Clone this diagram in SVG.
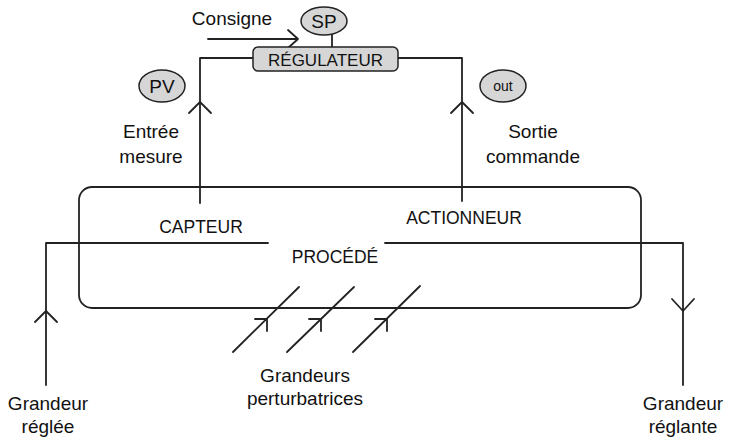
<svg xmlns="http://www.w3.org/2000/svg" width="732" height="440" viewBox="0 0 732 440">
<style>
.ln{fill:none;stroke:#222;stroke-width:1.8;stroke-linecap:round;stroke-linejoin:round}
.t{font-family:"Liberation Sans",Arial,sans-serif;font-size:19px;fill:#111;text-anchor:middle}
.c{font-size:17.5px}
.tag{fill:#d6d6d6;stroke:#222;stroke-width:1.5}
</style>
<rect width="732" height="440" fill="#fff"/>
<g id="connectors">
  <path class="ln" d="M208 39 H297"/>
  <path class="ln" d="M288 30 L298 39 L288 48"/>
  <path class="ln" d="M332 35 V47"/>
  <path class="ln" d="M253 58 H200 V203"/>
  <path class="ln" d="M189 113 L200 102 L211 113"/>
  <path class="ln" d="M398 58 H462 V201"/>
  <path class="ln" d="M451 113 L462 102 L473 113"/>
  <path class="ln" d="M268 243 H46 V385"/>
  <path class="ln" d="M35 322 L46 311 L57 322"/>
  <path class="ln" d="M385 243 H683 V385"/>
  <path class="ln" d="M672 299 L683 311 L694 299"/>
  <path class="ln" d="M233 352 L299 287"/>
  <path class="ln" d="M255 319 H267 V331"/>
  <path class="ln" d="M287 352 L354 287"/>
  <path class="ln" d="M309 319 H321 V331"/>
  <path class="ln" d="M353 352 L420 286"/>
  <path class="ln" d="M375 319 H387 V331"/>
</g>
<g id="procede">
  <rect x="79" y="187" width="562" height="121" rx="13" class="ln"/>
  <text class="t" x="335" y="263" style="font-size:17.5px">PROCÉDÉ</text>
</g>
<g id="capteur"><text class="t" x="201" y="233" style="font-size:17.5px">CAPTEUR</text></g>
<g id="actionneur"><text class="t" x="464" y="224" style="font-size:17.5px">ACTIONNEUR</text></g>
<g id="regulateur">
  <rect x="253" y="47" width="145" height="24" rx="5" class="tag"/>
  <text class="t" x="325.5" y="66" style="font-size:17px">RÉGULATEUR</text>
</g>
<g id="sp">
  <ellipse cx="324" cy="21" rx="23" ry="14" class="tag"/>
  <text class="t" x="324" y="28">SP</text>
</g>
<g id="pv">
  <ellipse cx="162" cy="86" rx="23" ry="16" class="tag"/>
  <text class="t" x="162" y="93">PV</text>
</g>
<g id="out">
  <ellipse cx="503" cy="86" rx="23" ry="16" class="tag"/>
  <text class="t" x="503" y="91" style="font-size:14px">out</text>
</g>
<g id="consigne"><text class="t" x="232" y="25">Consigne</text></g>
<g id="entree"><text class="t" x="151" y="138">Entrée</text><text class="t" x="151" y="163">mesure</text></g>
<g id="sortie"><text class="t" x="533" y="138">Sortie</text><text class="t" x="533" y="163">commande</text></g>
<g id="perturbatrices"><text class="t" x="305" y="382">Grandeurs</text><text class="t" x="305" y="405">perturbatrices</text></g>
<g id="reglee"><text class="t" x="48" y="410">Grandeur</text><text class="t" x="48" y="433">réglée</text></g>
<g id="reglante"><text class="t" x="683" y="410">Grandeur</text><text class="t" x="683" y="433">réglante</text></g>
</svg>
